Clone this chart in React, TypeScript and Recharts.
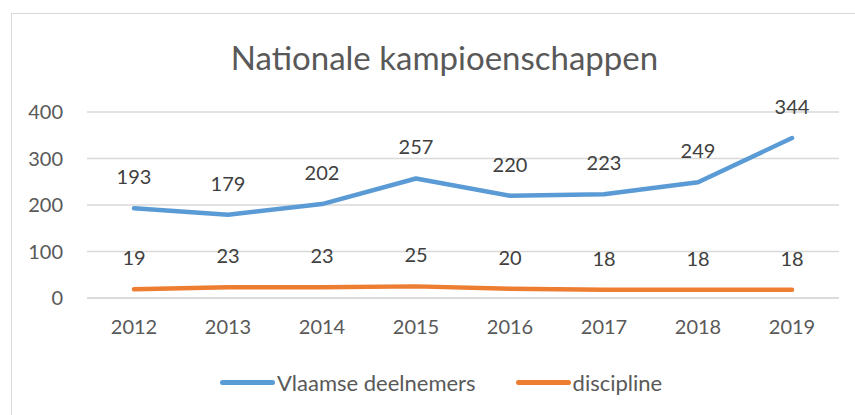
import React from "react";
import {
  LineChart,
  Line,
  XAxis,
  YAxis,
  CartesianGrid,
  Legend,
  LabelList,
} from "recharts";

// Nationale kampioenschappen - Excel-style line chart, two series with labels.

const YEARS = ["2012", "2013", "2014", "2015", "2016", "2017", "2018", "2019"];
const VLAAMSE_DEELNEMERS = [193, 179, 202, 257, 220, 223, 249, 344];
const DISCIPLINE = [19, 23, 23, 25, 20, 18, 18, 18];
const Y_TICKS = [0, 100, 200, 300, 400];

const SERIES = [
  { key: "vlaamse", name: "Vlaamse deelnemers", color: "#5B9BD5" },
  { key: "discipline", name: "discipline", color: "#ED7D31" },
];

const FONT = "Lato, 'Open Sans', sans-serif";

const data = YEARS.map((year, i) => ({
  year,
  vlaamse: VLAAMSE_DEELNEMERS[i],
  discipline: DISCIPLINE[i],
}));

const LegendContent = () => (
  <div
    style={{
      display: "flex",
      alignItems: "center",
      height: 40,
      paddingLeft: 220,
      fontFamily: FONT,
      fontSize: 22,
      color: "#595959",
    }}
  >
    {SERIES.map((s, i) => (
      <div key={s.key} style={{ display: "flex", alignItems: "center", marginRight: i === 0 ? 40 : 0 }}>
        <span
          style={{
            display: "inline-block",
            width: 55,
            height: 5,
            borderRadius: 3,
            background: s.color,
            marginRight: 2,
          }}
        />
        <span>{s.name}</span>
      </div>
    ))}
  </div>
);

export default function App() {
  return (
    <div style={{ position: "absolute", left: 0, top: 0, width: 855, height: 415, background: "#fff", overflow: "hidden" }}>
      <div
        style={{
          position: "absolute",
          left: 11,
          top: 13,
          width: 860,
          height: 420,
          border: "1px solid #d9d9d9",
        }}
      />
      <div
        style={{
          position: "absolute",
          left: 0,
          width: 889,
          top: 37,
          textAlign: "center",
          fontFamily: FONT,
          fontSize: 33,
          color: "#595959",
          lineHeight: "40px",
        }}
      >
        Nationale kampioenschappen
      </div>
      <div style={{ position: "absolute", left: 0, top: 0 }}>
        <LineChart width={855} height={415} data={data} margin={{ top: 112, right: 16, left: 0, bottom: 13 }}>
          <CartesianGrid vertical={false} stroke="#d9d9d9" strokeWidth={1.3} />
          <XAxis
            dataKey="year"
            height={64}
            tickSize={0}
            tickMargin={22}
            padding={{ left: 47, right: 47 }}
            axisLine={{ stroke: "#d9d9d9", strokeWidth: 1.3 }}
            tick={{ fill: "#595959", fontSize: 20, fontFamily: FONT }}
          />
          <YAxis
            width={87}
            domain={[0, 400]}
            ticks={Y_TICKS}
            tickSize={0}
            tickMargin={24}
            axisLine={false}
            tick={{ fill: "#595959", fontSize: 20, fontFamily: FONT }}
          />
          <Legend verticalAlign="bottom" height={40} wrapperStyle={{ left: 0, width: 855 }} content={<LegendContent />} />
          {SERIES.map((s) => (
            <Line
              key={s.key}
              type="linear"
              dataKey={s.key}
              name={s.name}
              stroke={s.color}
              strokeWidth={4.5}
              strokeLinecap="round"
              strokeLinejoin="round"
              dot={false}
              activeDot={false}
              isAnimationActive={false}
            >
              <LabelList
                dataKey={s.key}
                position="top"
                offset={24}
                style={{ fill: "#404040", fontSize: 20, fontFamily: FONT }}
              />
            </Line>
          ))}
        </LineChart>
      </div>
    </div>
  );
}
